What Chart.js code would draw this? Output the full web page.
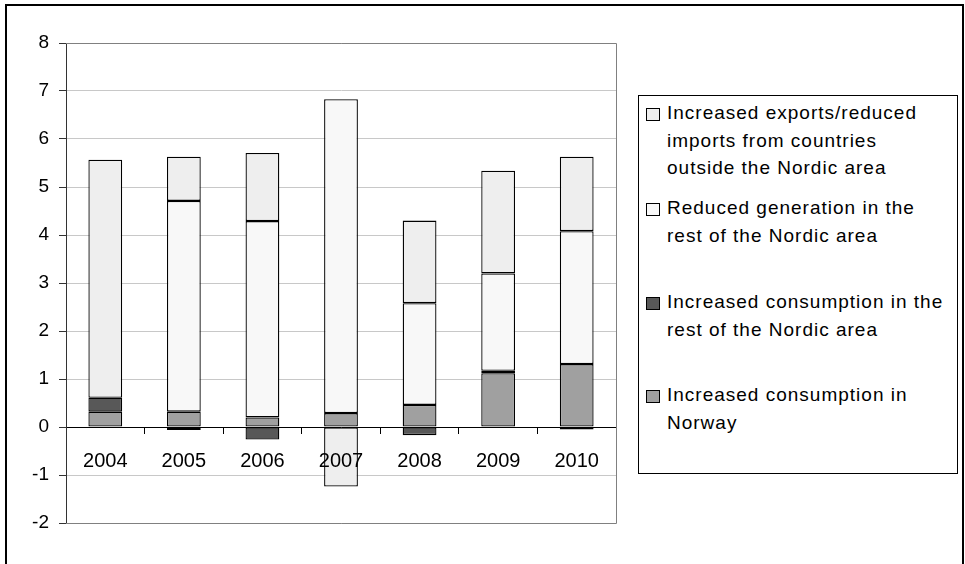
<!DOCTYPE html>
<html>
<head>
<meta charset="utf-8">
<script src="https://cdn.jsdelivr.net/npm/chart.js@4/dist/chart.umd.min.js"></script>
<style>
  body { margin: 0; background: #fff; font-family: "Liberation Sans", Arial, sans-serif; }
  #frame { position: absolute; left: 5px; top: 4px; width: 955px; height: 600px; border: 2px solid #000; }
  #wrap { position: absolute; left: 0; top: 0; width: 965px; height: 564px; }
  #legend { position: absolute; left: 638px; top: 95px; width: 318px; height: 377px; border: 1px solid #000; background: #fff; }
  .entry { position: absolute; left: 0; width: 318px; }
  .mark { position: absolute; left: 7px; width: 14px; height: 13px; border: 1px solid #000; box-sizing: border-box; }
  .txt { position: absolute; left: 28px; font-size: 19px; line-height: 27.5px; letter-spacing: 1px; color: #000; white-space: nowrap; }
</style>
</head>
<body>
<div id="frame"></div>
<div id="wrap"><canvas id="chart" width="965" height="564"></canvas></div>
<div id="legend"></div>
<script>
const years = ['2004', '2005', '2006', '2007', '2008', '2009', '2010'];
const norway = [0.32, 0.32, 0.20, 0.29, 0.46, 1.12, 1.31];
const restNordic = [0.29, -0.06, -0.26, 0, -0.17, 0.05, -0.05];
const generation = [0, 4.39, 4.09, 6.54, 2.12, 2.03, 2.77];
const exportsImports = [4.96, 0.92, 1.42, -1.24, 1.72, 2.14, 1.55];

const font = "'Liberation Sans', Arial, sans-serif";

// bottom of the stack first; the legend lists them the other way round
const series = [
    { label: ['Increased consumption in', 'Norway'], data: norway, color: '#a0a0a0' },
    { label: ['Increased consumption in the', 'rest of the Nordic area'], data: restNordic, color: '#585858' },
    { label: ['Reduced generation in the', 'rest of the Nordic area'], data: generation, color: '#f8f8f8' },
    { label: ['Increased exports/reduced', 'imports from countries', 'outside the Nordic area'], data: exportsImports, color: '#eeeeee' }
];

const plotFrame = {
    id: 'plotFrame',
    beforeDatasetsDraw(chart) {
        const { ctx, chartArea: a } = chart;
        ctx.save();
        ctx.strokeStyle = '#808080';
        ctx.lineWidth = 1;
        ctx.beginPath();
        ctx.moveTo(a.left, a.top + 0.5);
        ctx.lineTo(a.right + 0.5, a.top + 0.5);
        ctx.lineTo(a.right + 0.5, a.bottom + 0.5);
        ctx.lineTo(a.left, a.bottom + 0.5);
        ctx.stroke();
        ctx.restore();
    }
};

new Chart(document.getElementById('chart').getContext('2d'), {
    type: 'bar',
    data: {
        labels: years,
        datasets: series.map(s => ({
            label: s.label.join(' '),
            data: s.data,
            backgroundColor: s.color,
            borderColor: '#000',
            borderWidth: 1.3,
            borderSkipped: false,
            barPercentage: 0.43,
            categoryPercentage: 1
        }))
    },
    options: {
        responsive: false,
        animation: false,
        layout: { padding: { left: 0, top: 43, right: 349, bottom: 41 } },
        scales: {
            x: {
                stacked: true,
                position: { y: 0 },
                grid: { offset: true, drawOnChartArea: false, tickLength: 6, tickColor: '#000' },
                border: { color: '#000', width: 1 },
                // z: 1 puts the year labels on top of the bars (see 2007)
                ticks: { z: 1, color: '#000', font: { size: 20, family: font }, padding: 16, maxRotation: 0 },
                afterFit: s => { s.height = 0; }
            },
            y: {
                stacked: true,
                min: -2,
                max: 8,
                ticks: { stepSize: 1, color: '#000', font: { size: 19, family: font }, padding: 10 },
                grid: { color: '#c8c8c8', tickColor: '#333', tickLength: 7 },
                border: { color: '#333' },
                afterFit: s => { s.width = 66; }
            }
        },
        plugins: {
            legend: { display: false },
            tooltip: { enabled: false }
        }
    },
    plugins: [plotFrame]
});

// legend box, top entry = top of the stack
const legendBox = document.getElementById('legend');
const slots = [3, 98, 192, 285];
series.slice().reverse().forEach((s, i) => {
    const e = document.createElement('div');
    e.className = 'entry';
    e.style.top = slots[i] + 'px';
    const m = document.createElement('div');
    m.className = 'mark';
    m.style.top = '9px';
    m.style.background = s.color;
    const t = document.createElement('div');
    t.className = 'txt';
    t.innerHTML = s.label.join('<br>');
    e.appendChild(m);
    e.appendChild(t);
    legendBox.appendChild(e);
});
</script>
</body>
</html>
